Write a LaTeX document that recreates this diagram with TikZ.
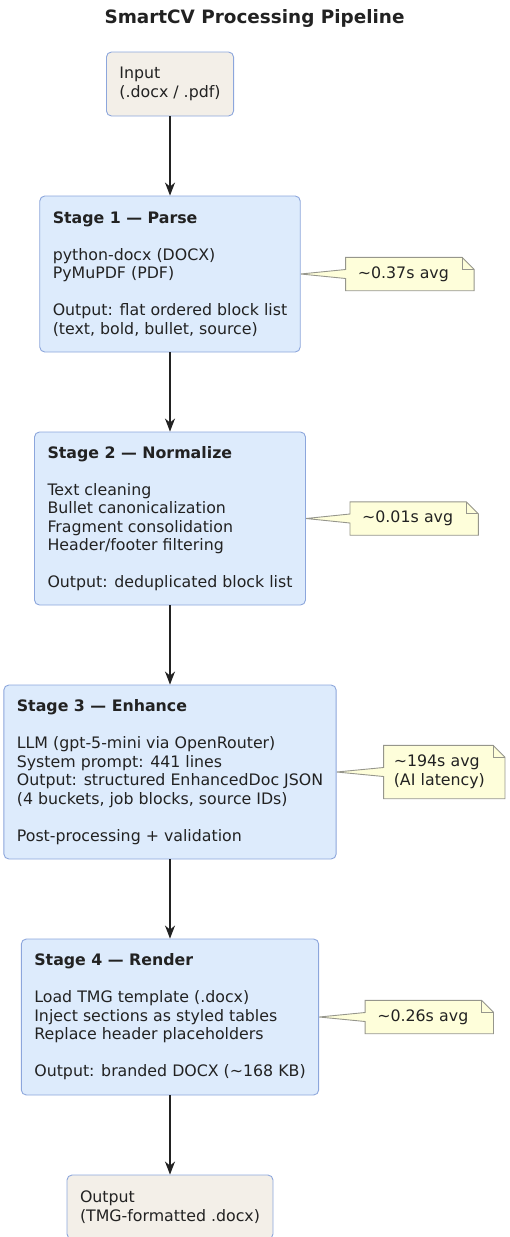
\documentclass[tikz,border=0pt]{standalone}
\usepackage{fontspec}
\setmainfont{DejaVu Sans}
\usepackage{tikz}
\usetikzlibrary{arrows.meta,positioning,backgrounds}
\definecolor{stagefill}{RGB}{221,235,252}
\definecolor{iofill}{RGB}{243,239,232}
\definecolor{boxline}{RGB}{140,166,220}
\definecolor{notefill}{RGB}{254,254,218}
\definecolor{noteline}{RGB}{150,150,140}
\definecolor{ink}{RGB}{34,34,34}

\begin{document}
\begin{tikzpicture}[x=1pt,y=-1pt,>={Stealth[length=13pt,width=10pt,inset=4pt]},
      font=\fontsize{15.8}{18.5}\selectfont,text=ink,
      io/.style={rectangle,rounded corners=5pt,draw=boxline,line width=0.9pt,fill=iofill,align=left,inner xsep=13pt,minimum height=64pt},
      stage/.style={rectangle,rounded corners=5pt,draw=boxline,line width=0.9pt,fill=stagefill,align=left,inner xsep=13pt},
      note/.style={inner xsep=12pt,inner ysep=6pt,text width=104pt,align=left,minimum height=33pt},
      noteedge/.style={draw=noteline,fill=notefill,line width=0.9pt},
      flow/.style={->,draw=ink,line width=1.1pt}]
    \useasboundingbox (0,0) rectangle (509,1237);
    \node[font=\fontsize{18.4}{22}\selectfont\bfseries] (title) at (254.5,18) {SmartCV Processing Pipeline};

    \node[io] (in) at (170,84) {Input\\ (.docx / .pdf)};
    \node[stage,minimum height=156pt] (s1) at (170,274) {\textbf{Stage 1 — Parse}\\[18.5pt]
      python-docx (DOCX)\\ PyMuPDF (PDF)\\[18.5pt]
      Output: flat ordered block list\\ (text, bold, bullet, source)};
    \node[stage,minimum height=173pt] (s2) at (170,518.5) {\textbf{Stage 2 — Normalize}\\[18.5pt]
      Text cleaning\\ Bullet canonicalization\\ Fragment consolidation\\ Header/footer filtering\\[18.5pt]
      Output: deduplicated block list};
    \node[stage,minimum height=174pt] (s3) at (170,772) {\textbf{Stage 3 — Enhance}\\[18.5pt]
      LLM (gpt-5-mini via OpenRouter)\\ System prompt: 441 lines\\
      Output: structured EnhancedDoc JSON\\ (4 buckets, job blocks, source IDs)\\[18.5pt]
      Post-processing + validation};
    \node[stage,minimum height=156pt] (s4) at (170,1017) {\textbf{Stage 4 — Render}\\[18.5pt]
      Load TMG template (.docx)\\ Inject sections as styled tables\\ Replace header placeholders\\[18.5pt]
      Output: branded DOCX (\textasciitilde168 KB)};
    \node[io] (out) at (170,1207) {Output\\ (TMG-formatted .docx)};

    % timing notes
    \node[note,right=45pt of s1] (n1) {\textasciitilde0.37s avg};
    \node[note,right=44pt of s2] (n2) {\textasciitilde0.01s avg};
    \node[note,right=47pt of s3,text width=101pt,minimum height=53pt,inner xsep=10pt] (n3) {\textasciitilde194s avg\\ (AI latency)};
    \node[note,right=46pt of s4] (n4) {\textasciitilde0.26s avg};
    \begin{scope}[on background layer]
      \foreach \n/\s in {n1/s1,n2/s2,n3/s3,n4/s4} {
        \draw[noteedge] (\n.north west) -- ([xshift=-12pt]\n.north east) -- ([yshift=-12pt]\n.north east)
          -- (\n.south east) -- (\n.south west) -- ([yshift=-4.5pt]\n.west) -- (\s.east)
          -- ([yshift=4.5pt]\n.west) -- cycle;
        \draw[noteedge,fill=none] ([xshift=-12pt]\n.north east) |- ([yshift=-12pt]\n.north east);
      }
    \end{scope}

    \draw[flow] (in) -- (s1);
    \draw[flow] (s1) -- (s2);
    \draw[flow] (s2) -- (s3);
    \draw[flow] (s3) -- (s4);
    \draw[flow] (s4) -- (out);
  \end{tikzpicture}
\end{document}
